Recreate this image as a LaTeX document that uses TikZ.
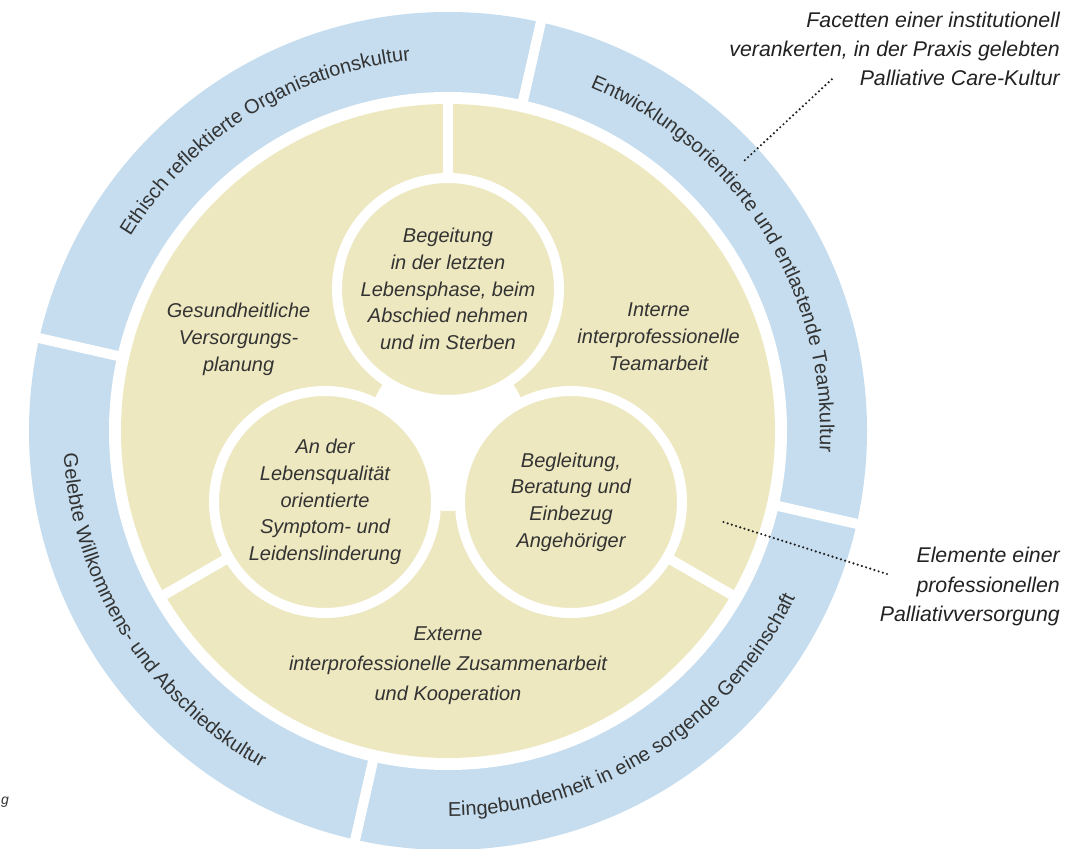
\documentclass[tikz,border=0pt]{standalone}
\usepackage{fontspec}
\setmainfont{Liberation Sans}
\usetikzlibrary{decorations.text,calc}
\definecolor{ringblue}{RGB}{197,221,238}
\definecolor{creme}{RGB}{237,232,192}
\definecolor{txt}{RGB}{51,51,51}
\definecolor{ann}{RGB}{34,34,34}
\newcommand\innfont{\fontsize{20}{26.7}\selectfont\itshape}
\newcommand\ringfont{\fontsize{20}{24}\selectfont\color{txt}}
\newcommand\annfont{\fontsize{21.3}{29.3}\selectfont\itshape}
\tikzset{
  gapline/.style={white, line width=10},
  innercircle/.style={circle, fill=creme, draw=white, line width=10, minimum size=222, inner sep=0, align=center, font=\innfont, text=txt},
  seglabel/.style={align=center, inner sep=0, font=\innfont, text=txt},
  annlabel/.style={align=right, inner sep=0, anchor=east, font=\annfont, text=ann},
  dotline/.style={ann, line width=2.4, dash pattern=on 0pt off 4.4pt, line cap=round},
  ringlabel/.style={decorate, decoration={text along path, text align=center, text={#1}}}
}
\begin{document}
\begin{tikzpicture}[x=1pt,y=1pt]
\useasboundingbox (0,0) rectangle (1091,848);
\fill[white] (0,0) rectangle (1091,848);
\coordinate (C) at (448,417);
% outer ring
\fill[ringblue] (C) circle[radius=419];
\fill[white] (C) circle[radius=339];
\fill[creme] (C) circle[radius=327];
\foreach \a in {77.2,167.2,257.2,347.2}
  \draw[gapline] (C) ++(\a:332) -- ++(\a:100);
% inner dividers
\foreach \a in {90,210,330}
  \draw[gapline] (C) -- ++(\a:332);
\fill[white] (C) circle[radius=80];
% inner circles
\node[innercircle] (top) at ($(C)+(90:142)$) {Begeitung\\in der letzten\\Lebensphase, beim\\Abschied nehmen\\und im Sterben};
\node[innercircle] (left) at ($(C)+(210:142)$) {An der\\Lebensqualität\\orientierte\\Symptom- und\\Leidenslinderung};
\node[innercircle] (right) at ($(C)+(330:142)$) {Begleitung,\\Beratung und\\Einbezug\\Angehöriger};
% segment labels
\node[seglabel, font=\fontsize{20}{27}\selectfont\itshape] (gesund) at (238.6,508.5) {Gesundheitliche\\Versorgungs-\\planung};
\node[seglabel, font=\fontsize{20}{27}\selectfont\itshape] (intern) at (658.6,511) {Interne\\interprofessionelle\\Teamarbeit};
\node[seglabel, font=\fontsize{20}{30}\selectfont\itshape] (extern) at (448,182) {Externe\\interprofessionelle Zusammenarbeit\\und Kooperation};
% ring labels
\path[ringlabel={|\ringfont|Ethisch reflektierte Organisationskultur}]
  (C) ++(167.2:372) arc[start angle=167.2, end angle=77.2, radius=372];
\path[ringlabel={|\ringfont|Entwicklungsorientierte und entlastende Teamkultur}]
  (C) ++(77.2:372) arc[start angle=77.2, end angle=-12.8, radius=372];
\path[ringlabel={|\ringfont|Eingebundenheit in eine sorgende Gemeinschaft}]
  (C) ++(-102.8:385) arc[start angle=-102.8, end angle=-12.8, radius=385];
\path[ringlabel={|\ringfont|Gelebte Willkommens- und Abschiedskultur}]
  (C) ++(167.2:385) arc[start angle=167.2, end angle=257.2, radius=385];
% annotations
\node[annlabel] (facetten) at (1060,799.2) {Facetten einer institutionell\\verankerten, in der Praxis gelebten\\Palliative Care-Kultur};
\node[annlabel] (elemente) at (1060,261.4) {Elemente einer\\professionellen\\Palliativversorgung};
\coordinate (f1) at (831.8,768.7);
\coordinate (f2) at (744.3,687.3);
\coordinate (e1) at (887,274);
\coordinate (e2) at (719.3,327.3);
\draw[dotline] (f1) -- (f2);
\draw[dotline] (e1) -- (e2);
% cut-off fragment
\node[anchor=base west, inner sep=0, font=\fontsize{14}{14}\selectfont\itshape, text=txt] (frag) at (1,44) {g};
\end{tikzpicture}
\end{document}
